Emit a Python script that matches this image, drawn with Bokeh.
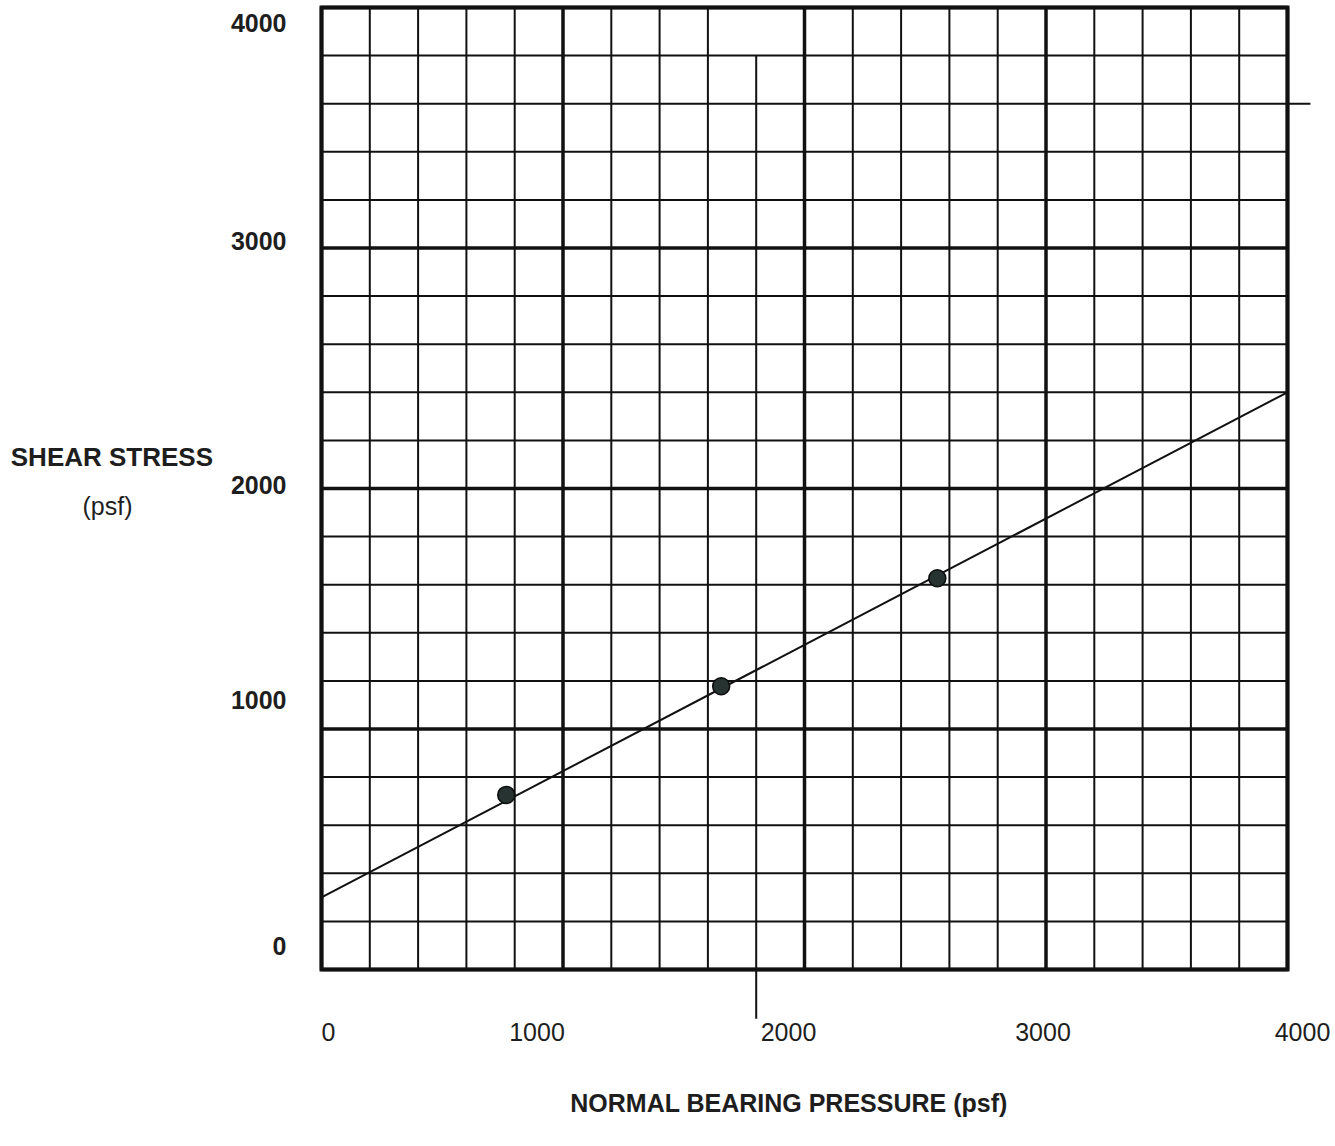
from bokeh.plotting import figure
from bokeh.models import Range1d
from bokeh.core.properties import value
from bokeh.embed import file_html
from bokeh.resources import INLINE

# ---- data ----
normal_pressure = [765, 1655, 2550]          # psf
shear_stress = [726, 1178, 1627]             # psf
fit_pressure = [0, 4000]
fit_shear = [300, 2400]
major_ticks = [0, 1000, 2000, 3000, 4000]
tick_labels = ["0", "1000", "2000", "3000", "4000"]
minor_ticks = [200, 400, 600, 800, 1200, 1400, 1600, 1800,
               2200, 2400, 2600, 2800, 3200, 3400, 3600, 3800]
axis_min, axis_max = 0, 4000
# stray guide lines drawn on the sheet
guide_v_x = 1800
guide_v_y = [3800, -205]
guide_h_y = 3600
guide_h_x = [4000, 4095]

# ---- layout (pixels) ----
W, H = 1332, 1140
PX_X0, PX_X1 = 321, 1287      # pixel columns of x = 0 and x = 4000
PX_Y0, PX_Y1 = 969, 7         # pixel rows of y = 0 and y = 4000
x_label_shift_px = [7, -26, -16, -3, 15]     # printed tick labels sit a bit off the lines
y_label_shift_px = [-24, -29, -4, -7, 15]    # (+ = downwards)
FONT = value("Liberation Sans")
INK = "#111111"
TXT = "#1e1e1e"


def dx(px):
    return axis_min + (px - PX_X0) / (PX_X1 - PX_X0) * (axis_max - axis_min)


def dy(py):
    return axis_min + (PX_Y0 - py) / (PX_Y0 - PX_Y1) * (axis_max - axis_min)


p = figure(width=W, height=H, min_border=0,
           x_range=Range1d(dx(0), dx(W)), y_range=Range1d(dy(H), dy(0)),
           x_axis_location=None, y_axis_location=None,
           output_backend="svg", toolbar_location=None,
           background_fill_color="white", border_fill_color="white")
p.outline_line_color = None
p.xgrid.visible = False
p.ygrid.visible = False

# grid paper
n_minor = len(minor_ticks)
xs_minor = [v for v in minor_ticks if v != guide_v_x]
p.segment(x0=xs_minor, y0=[axis_min] * len(xs_minor), x1=xs_minor, y1=[axis_max] * len(xs_minor),
          line_color=INK, line_width=2)
p.segment(x0=[axis_min] * n_minor, y0=minor_ticks, x1=[axis_max] * n_minor, y1=minor_ticks,
          line_color=INK, line_width=2)
n_major = len(major_ticks)
p.segment(x0=major_ticks, y0=[axis_min] * n_major, x1=major_ticks, y1=[axis_max] * n_major,
          line_color=INK, line_width=3.5)
p.segment(x0=[axis_min] * n_major, y0=major_ticks, x1=[axis_max] * n_major, y1=major_ticks,
          line_color=INK, line_width=3.5)
p.quad(left=axis_min, right=axis_max, bottom=axis_min, top=axis_max,
       fill_color=None, line_color=INK, line_width=4, line_join="miter")

# stray guide lines
p.segment(x0=[guide_v_x], y0=[guide_v_y[0]], x1=[guide_v_x], y1=[guide_v_y[1]],
          line_color=INK, line_width=2)
p.segment(x0=[guide_h_x[0]], y0=[guide_h_y], x1=[guide_h_x[1]], y1=[guide_h_y],
          line_color=INK, line_width=2)

# fit line and data points
p.line(fit_pressure, fit_shear, line_color=INK, line_width=2)
p.scatter(normal_pressure, shear_stress, size=17,
          fill_color="#263330", line_color="#0d0d0d", line_width=1.5)

# tick labels
p.text(x=major_ticks, y=[dy(1031)] * n_major, text=tick_labels,
       x_offset=x_label_shift_px,
       text_align="center", text_baseline="middle",
       text_font=FONT, text_font_size="25px", text_color=TXT)
p.text(x=[dx(286)] * n_major, y=major_ticks, text=tick_labels,
       y_offset=y_label_shift_px,
       text_align="right", text_baseline="middle",
       text_font=FONT, text_font_size="25px", text_font_style="bold", text_color=TXT)

# axis titles
p.text(x=[dx(115)], y=[dy(456)], text=["SHEAR  STRESS"],
       text_align="center", text_baseline="middle",
       text_font=FONT, text_font_size="26px", text_font_style="bold", text_color=TXT)
p.text(x=[dx(107)], y=[dy(505)], text=["(psf)"],
       text_align="center", text_baseline="middle",
       text_font=FONT, text_font_size="25px", text_color=TXT)
p.text(x=[dx(792)], y=[dy(1102)], text=["NORMAL BEARING  PRESSURE (psf)"],
       text_align="center", text_baseline="middle",
       text_font=FONT, text_font_size="25px", text_font_style="bold", text_color=TXT)

open("out.html", "w").write(file_html(p, INLINE))
